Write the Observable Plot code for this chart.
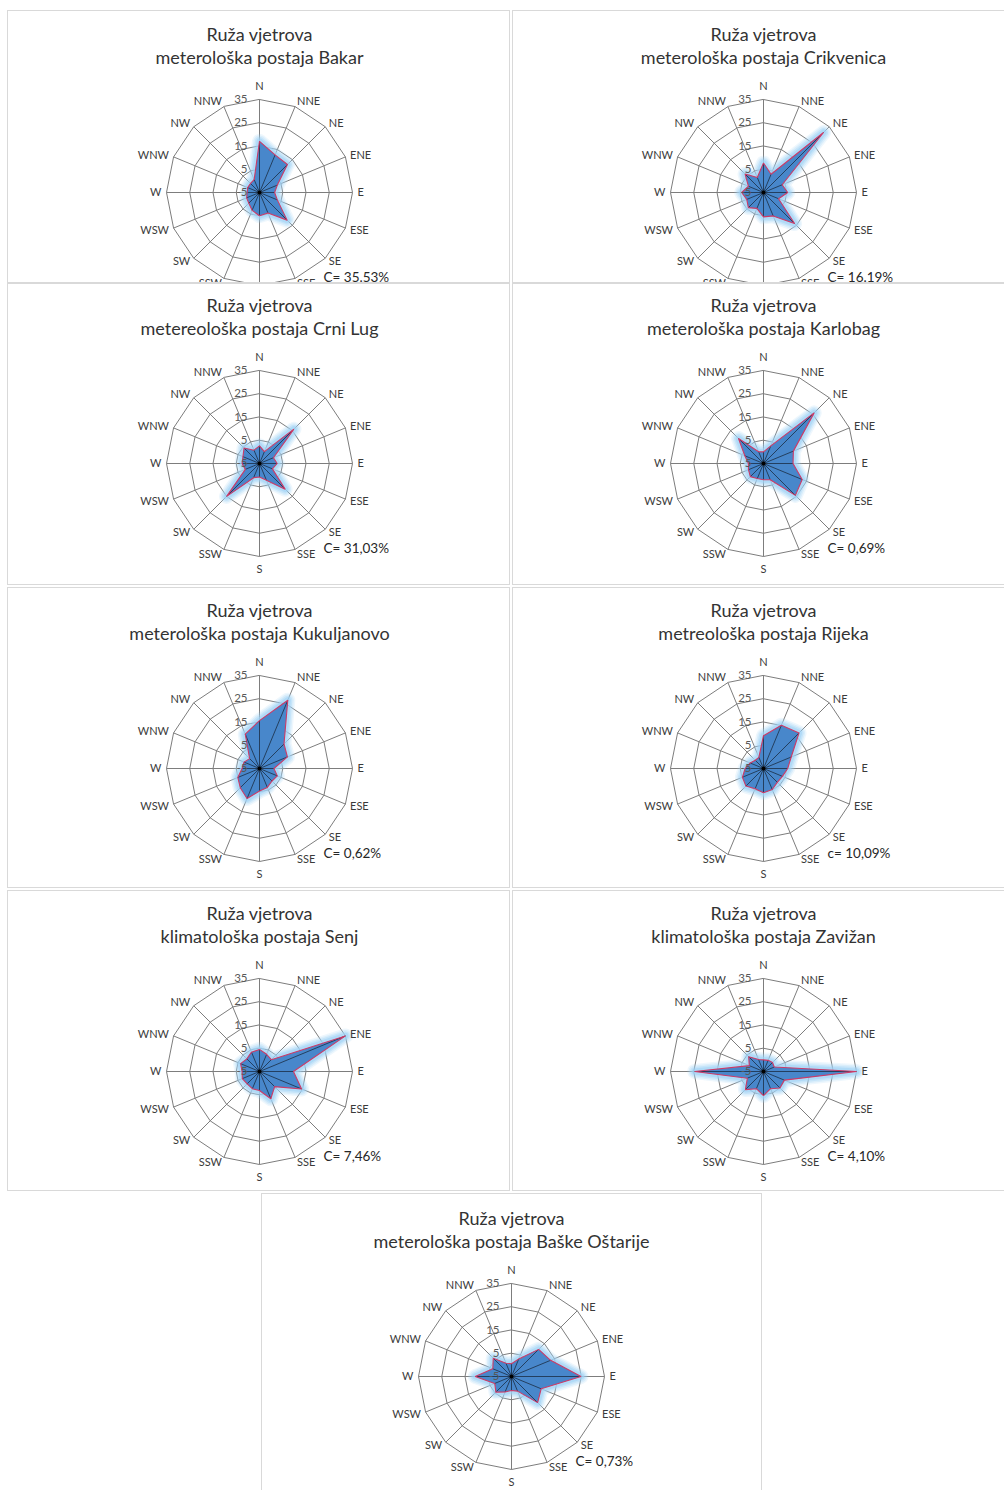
<!DOCTYPE html>
<html>
<head>
<meta charset="utf-8">
<script src="https://cdn.jsdelivr.net/npm/d3@7"></script>
<script src="https://cdn.jsdelivr.net/npm/@observablehq/plot@0.6"></script>
<style>
  html, body { margin: 0; padding: 0; background: #fff; overflow: hidden; }
  #root { position: relative; width: 1004px; height: 1490px; overflow: hidden; background: #fff; }
  .panel { position: absolute; border: 1px solid #d9d9d9; box-sizing: border-box; overflow: hidden; background: #fff; }
  .panel svg { display: block; }
</style>
</head>
<body>
<div id="root"></div>
<script>
// ---------- DATA ----------
const directions = ["N","NNE","NE","ENE","E","ESE","SE","SSE","S","SSW","SW","WSW","W","WNW","NW","NNW"];
const ringTicks = [-5, 5, 15, 25, 35];

const titleLine1 = "Ruža vjetrova";
const stationTitles = [
  "meterološka postaja Bakar",
  "meterološka postaja Crikvenica",
  "metereološka postaja Crni Lug",
  "meterološka postaja Karlobag",
  "meterološka postaja Kukuljanovo",
  "metreološka postaja Rijeka",
  "klimatološka postaja Senj",
  "klimatološka postaja Zavižan",
  "meterološka postaja Baške Oštarije"
];
const calmLabels = ["C= 35.53%","C= 16.19%","C= 31,03%","C= 0,69%","C= 0,62%","c= 10,09%","C= 7,46%","C= 4,10%","C= 0,73%"];

//                  N    NNE   NE    ENE   E     ESE   SE    SSE   S    SSW  SW   WSW  W     WNW  NW    NNW
const bakar       = [17,  12.5, 12,   3.3,  1.5,  3.3,  11.8, 4.5,  5,   3.3, 1.5, 1,   0.3,  0.5, 0.5,  1];
const crikvenica  = [7.7, 3.5,  31.5, 3.7,  5.4,  2,    13.9, 5.9,  5.5, 2.4, 4.2, 2.8, 4.4,  2,   6.2,  2];
const crniLug     = [2.6, 0.5,  15.9, 1.5,  2.6,  1,    10.6, 2.8,  0.8, 1.6, 15,  1.6, 2.5,  2.7, 4.4,  1.2];
const karlobag    = [0,   3.2,  25.8, 8.9,  7.7,  13,   14.4, 2.6,  2,   2,   3,   2,   1.5,  3.7, 10.2, 0.5];
const kukuljanovo = [15.6,26.8, 9.9,  8,    1.2,  3.3,  2.6,  3.8,  4.7, 9,   6.7, 5.1, 2.5,  2.2, 1,    11];
const rijeka      = [9.1, 15.1, 16.6, 7.9,  5.4,  3.8,  3.4,  4.8,  5.4, 4.4, 5.7, 4.8, 2.9,  1.2, 0,    0.2];
const senj        = [4.5, 3,    2.2,  35,   9.6,  14.6, 4.2,  7.7,  3.2, 3,   2.5, 3,   2.5,  3.8, 2.7,  4];
const zavizan     = [0,   0.2,  0.5,  0,    35,   4.7,  5,    3,    5.4, 3,   6,   2.5, 24.6, 1.6, 4,    0.6];
const baskeOstarije = [0.5, 3.2, 11.5, 13.2, 24.9, 8.8, 10.9, 1.8, 1,   2.2, 4.5, 2.8, 10.6, 3.7, 6.1,  1.2];

const stationValues = [bakar, crikvenica, crniLug, karlobag, kukuljanovo, rijeka, senj, zavizan, baskeOstarije];

// ---------- LAYOUT ----------
const layout = [
  {left: 7,   top: 10,   w: 503, h: 273, cx: 252, cy: 182},
  {left: 512, top: 10,   w: 503, h: 273, cx: 251, cy: 182},
  {left: 7,   top: 283,  w: 503, h: 302, cx: 252, cy: 180},
  {left: 512, top: 283,  w: 503, h: 302, cx: 251, cy: 180},
  {left: 7,   top: 587,  w: 503, h: 301, cx: 252, cy: 181},
  {left: 512, top: 587,  w: 503, h: 301, cx: 251, cy: 181},
  {left: 7,   top: 890,  w: 503, h: 301, cx: 252, cy: 181},
  {left: 512, top: 890,  w: 503, h: 301, cx: 251, cy: 181},
  {left: 261, top: 1193, w: 501, h: 310, cx: 250, cy: 183}
];

const R = 93;             // pixel radius of the 35 ring
const rMin = ringTicks[0];
const rMax = ringTicks[ringTicks.length - 1];
const k = R / (rMax - rMin); // px per unit
const font = "Lato, 'Open Sans', sans-serif";

function polar(v, i) {
  const a = i * Math.PI / 8;
  const r = v - rMin;
  return {x: r * Math.sin(a), y: r * Math.cos(a)};
}

function rose(values, title, calm, L) {
  const W = L.w - 2, H = L.h - 2;
  const cx = L.cx - 1, cy = L.cy - 1;
  const data = directions.map((d, i) => ({dir: d, i, value: values[i], ...polar(values[i], i)}));
  const rings = ringTicks.filter(t => t > rMin).flatMap(t => directions.map((d, i) => ({ring: t, ...polar(t, i)})));
  const spokes = directions.map((d, i) => ({dir: d, i, ...polar(rMax, i)}));
  const labels = directions.map((d, i) => {
    const a = i * Math.PI / 8;
    const pad = (i % 8 === 0) ? 13 / k : 5 / k;
    const r = rMax - rMin + pad;
    return {dir: d, i, x: r * Math.sin(a), y: r * Math.cos(a), side: Math.abs(Math.sin(a)) < 1e-6 ? "m" : (Math.sin(a) > 0 ? "r" : "l")};
  });
  const ticks = ringTicks.map(t => ({t, label: String(t)}));
  const halo = (w, o) => Plot.line(data, {x: "x", y: "y", curve: "linear-closed", stroke: "#9fd2f6", strokeWidth: w, strokeOpacity: o, strokeLinejoin: "round", fill: "none"});

  const plot = Plot.plot({
    width: W,
    height: H,
    margin: 0,
    x: {domain: [-cx / k, (W - cx) / k], axis: null},
    y: {domain: [-(H - cy) / k, cy / k], axis: null},
    style: {fontFamily: font, fontSize: "11px", color: "#3a3a3a", background: "#fff", overflow: "visible"},
    marks: [
      Plot.line(rings, {x: "x", y: "y", z: "ring", curve: "linear-closed", stroke: "#7d7d7d", strokeWidth: 1}),
      Plot.link(spokes, {x1: () => 0, y1: () => 0, x2: "x", y2: "y", stroke: "#7d7d7d", strokeWidth: 1}),
      halo(15, 0.18),
      halo(12, 0.25),
      halo(9, 0.35),
      halo(6, 0.55),
      Plot.line(data, {x: "x", y: "y", curve: "linear-closed", fill: "#4887cb", stroke: "none"}),
      Plot.link(data, {x1: () => 0, y1: () => 0, x2: "x", y2: "y", stroke: "#1b2d44", strokeWidth: 0.8}),
      Plot.line(data, {x: "x", y: "y", curve: "linear-closed", fill: "none", stroke: "#cc3a66", strokeWidth: 1.1, strokeLinejoin: "miter"}),
      Plot.dot([0], {x: () => 0, y: () => 0, r: 2, fill: "#000"}),
      Plot.text(labels.filter(d => d.side === "r"), {x: "x", y: "y", text: "dir", textAnchor: "start", fill: "#3a3a3a"}),
      Plot.text(labels.filter(d => d.side === "l"), {x: "x", y: "y", text: "dir", textAnchor: "end", fill: "#3a3a3a"}),
      Plot.text(labels.filter(d => d.side === "m"), {x: "x", y: "y", text: "dir", textAnchor: "middle", fill: "#3a3a3a"}),
      Plot.text(ticks, {x: () => -12 / k, y: d => d.t - rMin, text: "label", textAnchor: "end", fill: "#595959", fontSize: 11.5}),
      Plot.text([calm], {x: () => 64 / k, y: () => -85.5 / k, text: d => d, textAnchor: "start", fill: "#262626", fontSize: 13.5}),
      Plot.text([titleLine1 + "\n" + title], {x: () => 0, y: () => 147.5 / k, text: d => d, textAnchor: "middle", lineHeight: 1.28, fill: "#333", fontSize: 18, ariaLabel: "title"})
    ]
  });
  const t = plot.querySelector('g[aria-label="title"]');
  if (t) t.setAttribute("letter-spacing", "1.3px");
  return plot;
}

const root = document.getElementById("root");
stationValues.forEach((vals, idx) => {
  const L = layout[idx];
  const div = document.createElement("div");
  div.className = "panel";
  div.style.left = L.left + "px";
  div.style.top = L.top + "px";
  div.style.width = L.w + "px";
  div.style.height = L.h + "px";
  div.appendChild(rose(vals, stationTitles[idx], calmLabels[idx], L));
  root.appendChild(div);
});
</script>
</body>
</html>
